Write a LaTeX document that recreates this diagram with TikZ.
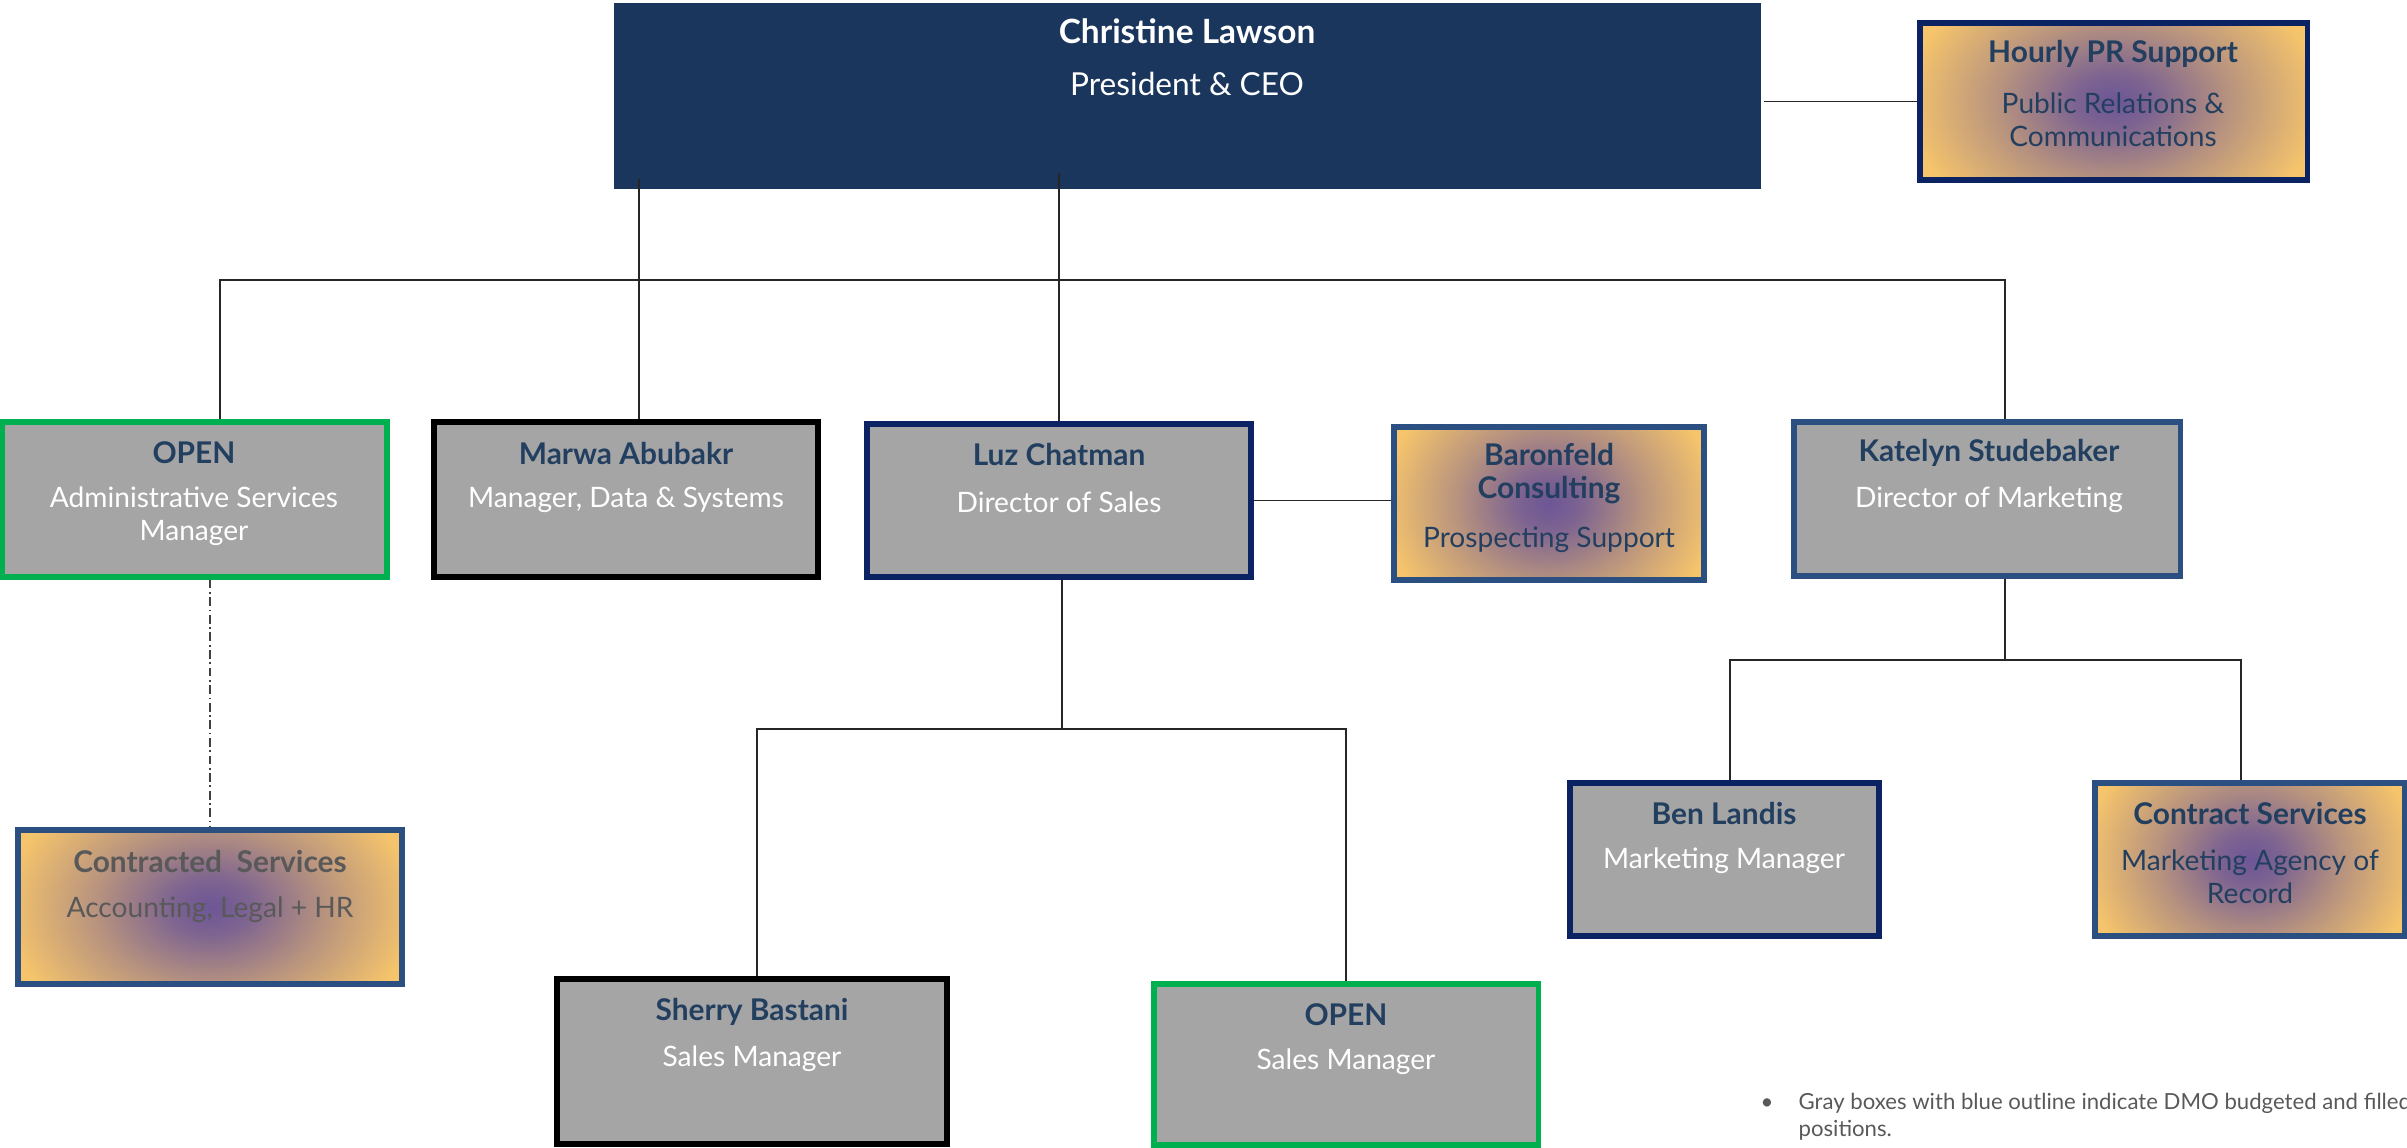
\documentclass[tikz,border=0pt]{standalone}
\usepackage{fontspec}
\setmainfont{Lato}
\usepackage{tikz}
\usetikzlibrary{positioning, calc}
\definecolor{ceonavy}{HTML}{1A365D}
\definecolor{boxgray}{HTML}{A5A5A5}
\definecolor{titleblue}{HTML}{233F60}
\definecolor{opengreen}{HTML}{00B050}
\definecolor{edgenavy}{HTML}{0B2362}
\definecolor{edgeblue}{HTML}{2A4F80}
\definecolor{gradgold}{HTML}{F6C56B}
\definecolor{gradpurple}{HTML}{6C5696}
\definecolor{notegray}{HTML}{595959}
\pgfdeclareradialshading{glow}{\pgfpointorigin}{color(0bp)=(gradpurple); color(5bp)=(gradpurple!88!gradgold); color(15bp)=(gradpurple!45!gradgold); color(27bp)=(gradgold); color(50bp)=(gradgold)}

\begin{document}
\begin{tikzpicture}[
    x=0.01cm, y=-0.01cm,
    orgbox/.style={rectangle, draw, line width=1.5pt, inner sep=0pt},
    staff/.style={orgbox, fill=boxgray},
    vendor/.style={orgbox, draw=edgeblue, path picture={\shade[shading=glow] ([yshift=-0.55cm]path picture bounding box.south west) rectangle ([yshift=0.55cm]path picture bounding box.north east);}},
    ttl/.style={font=\bfseries\fontsize{8.5}{9.6}\selectfont, text=titleblue, align=center, inner sep=0pt},
    role/.style={font=\fontsize{8}{9.3}\selectfont, text=white, align=center, inner sep=0pt},
    conn/.style={draw=black!85, line width=0.45pt},
    dashline/.style={draw=black!75, line width=0.4pt, dash pattern=on 2.5pt off 1pt on 0.5pt off 1pt},
]
\useasboundingbox (0,0) rectangle (2407,1147);
\clip (0,0) rectangle (2407,1147);

% boxes
\node[orgbox, draw=none, fill=ceonavy, minimum width=11.47cm, minimum height=1.86cm] (ceo) at (1187.5,96) {};
\node[vendor, draw=edgenavy, minimum width=3.87cm, minimum height=1.57cm] (pr) at (2113.5,101.5) {};

\node[staff, draw=opengreen, minimum width=3.85cm, minimum height=1.55cm] (adm) at (194.5,499.5) {};
\node[staff, draw=black, minimum width=3.84cm, minimum height=1.55cm] (marwa) at (626,499.5) {};
\node[staff, draw=edgenavy, minimum width=3.84cm, minimum height=1.53cm] (luz) at (1059,500.5) {};
\node[vendor, minimum width=3.10cm, minimum height=1.53cm] (baron) at (1549,503.5) {};
\node[staff, draw=edgeblue, minimum width=3.86cm, minimum height=1.54cm] (kate) at (1987,499) {};

\node[vendor, minimum width=3.84cm, minimum height=1.54cm] (contr) at (210,907) {};
\node[staff, draw=edgenavy, minimum width=3.09cm, minimum height=1.53cm] (ben) at (1724.5,859.5) {};
\node[vendor, minimum width=3.10cm, minimum height=1.53cm] (agency) at (2250,859.5) {};

\node[staff, draw=black, minimum width=3.90cm, minimum height=1.65cm] (sherry) at (752,1061.5) {};
\node[staff, draw=opengreen, minimum width=3.84cm, minimum height=1.61cm] (opens) at (1346,1064.5) {};

% texts
\node[ttl, text=white, font=\bfseries\fontsize{9.5}{11}\selectfont] (ceo-name) at (1187,31) {Christine Lawson};
\node[role, font=\fontsize{9}{10}\selectfont] (ceo-role) at (1187,84) {President \& CEO};

\node[ttl] (pr-name) at (2113,54) {Hourly PR Support};
\node[role, text=titleblue] (pr-role) at (2113,120) {Public Relations \&\\Communications};

\node[ttl] (adm-name) at (194,453) {OPEN};
\node[role] (adm-role) at (194,516.5) {Administrative Services\\Manager};

\node[ttl] (marwa-name) at (626,453) {Marwa Abubakr};
\node[role] (marwa-role) at (626,500) {Manager, Data \& Systems};

\node[ttl] (luz-name) at (1059,454) {Luz Chatman};
\node[role] (luz-role) at (1059,502) {Director of Sales};

\node[ttl] (baron-name) at (1549,473.5) {Baronfeld\\Consulting};
\node[role, text=titleblue] (baron-role) at (1549,540) {Prospecting Support};

\node[ttl] (kate-name) at (1989,453) {Katelyn Studebaker};
\node[role] (kate-role) at (1989,500) {Director of Marketing};

\node[ttl, text=notegray] (contr-name) at (210,861) {Contracted~~Services};
\node[role, text=notegray] (contr-role) at (210,910) {Accounting, Legal + HR};

\node[ttl] (ben-name) at (1724,813.5) {Ben Landis};
\node[role] (ben-role) at (1724,861) {Marketing Manager};

\node[ttl] (agency-name) at (2250,813.5) {Contract Services};
\node[role, text=titleblue] (agency-role) at (2250,877) {Marketing Agency of\\Record};

\node[ttl] (sherry-name) at (752,1011.5) {Sherry Bastani};
\node[role] (sherry-role) at (752,1059) {Sales Manager};

\node[ttl] (opens-name) at (1346,1015) {OPEN};
\node[role] (opens-role) at (1346,1062) {Sales Manager};

\node[anchor=west, font=\fontsize{6.3}{7.7}\selectfont, text=notegray, inner sep=0pt] (note) at (1760,1117.5)
  {\begin{tabular}{@{}l@{\hspace{0.25cm}}l@{}}\textbullet & Gray boxes with blue outline indicate DMO budgeted and filled\\ & positions.\end{tabular}};

% connectors
\coordinate (admtap) at (220,280);
\coordinate (martap) at (639,280);
\coordinate (kattap) at (2005,280);
\coordinate (salesbus) at (1062,729);
\coordinate (sherrytap) at (757,729);
\coordinate (mktbus) at (2005,660);
\coordinate (bentap) at (1730,660);
\coordinate (agencytap) at (2241,660);

\draw[conn] (pr.west -| ceo.east) -- (pr.west);
\draw[conn] (adm.north -| admtap) -- (admtap) -- (kattap) -- (kate.north -| kattap);
\draw[conn] ($(ceo.south -| martap)+(0,-13)$) -- (marwa.north -| martap);
\draw[conn] ($(ceo.south -| luz.north)+(0,-19)$) -- (luz.north);
\draw[conn] (luz.east) -- (luz.east -| baron.west);
\draw[dashline] (adm.south -| contr.north) -- (contr.north);

\draw[conn] (luz.south -| salesbus) -- (salesbus);
\draw[conn] (sherry.north -| sherrytap) -- (sherrytap) -- (salesbus) -| (opens.north);

\draw[conn] (kate.south -| mktbus) -- (mktbus);
\draw[conn] (ben.north -| bentap) -- (bentap) -- (agencytap) -- (agency.north -| agencytap);

\end{tikzpicture}
\end{document}
